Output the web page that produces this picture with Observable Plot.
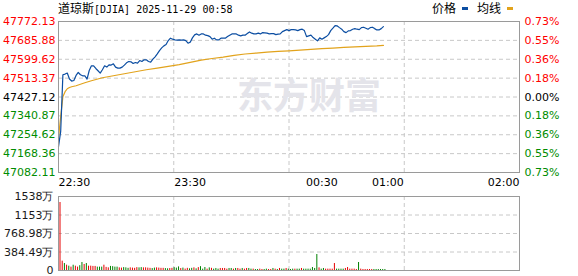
<!DOCTYPE html>
<html><head><meta charset="utf-8">
<script src="https://cdn.jsdelivr.net/npm/d3@7"></script>
<script src="https://cdn.jsdelivr.net/npm/@observablehq/plot@0.6"></script>
<style>
body{margin:0;background:#fff;}
#root{position:relative;width:578px;height:276px;overflow:hidden;background:#fff;font-family:"DejaVu Sans",sans-serif;}
#price,#vol{position:absolute;left:0;}
#price{top:0}
#vol{top:190px}
.t{position:absolute;top:0;height:16px;line-height:16px;white-space:nowrap;color:#000}
.cjk{font-family:"Noto Sans CJK SC";font-size:12px}
.mono{font-family:"DejaVu Sans Mono";font-size:10px}
.mk{position:absolute;top:7px;width:6px;height:3px}
</style></head>
<body>
<div id="root">
  <div id="price"></div>
  <div id="vol"></div>
  <div class="t" style="left:58px"><span class="cjk" id="tName"></span><span class="mono" id="tRest"></span></div>
  <div class="t cjk" style="left:432px" id="lg1"></div>
  <div class="mk" style="left:462px;background:#0c4ea2"></div>
  <div class="t cjk" style="left:477px" id="lg2"></div>
  <div class="mk" style="left:507px;background:#e2a31c"></div>
</div>
<script>
const titleName = "道琼斯";
const titleRest = "[DJIA] 2025-11-29 00:58";
const legendLabels = ["价格", "均线"];
const watermark = "东方财富";
const sessionMinutes = 210;
const timeTickMinutes = [0, 60, 120, 150, 210];
const timeTickLabels = ["22:30", "23:30", "00:30", "01:00", "02:00"];
const prevClose = 47427.12;
const priceTickLabels = ["47772.13","47685.88","47599.62","47513.37","47427.12","47340.87","47254.62","47168.36","47082.11"];
const pctTickLabels = ["0.73%","0.55%","0.36%","0.18%","0.00%","0.18%","0.36%","0.55%","0.73%"];
const prices = [
47200.7,47270.4,47528.7,47531.9,47536.5,47509.1,47500.0,47502.7,47525.5,47539.2,
47528.7,47524.1,47524.1,47509.1,47548.3,47569.7,47569.7,47557.4,47546.9,47536.5,
47551.5,47569.7,47563.8,47574.3,47572.9,47578.8,47563.8,47559.2,47559.2,47563.8,
47572.9,47583.4,47589.3,47587.9,47580.2,47584.7,47582.0,47593.8,47589.3,47597.0,
47597.0,47589.3,47586.6,47600.2,47610.7,47624.4,47639.4,47651.7,47660.8,47666.7,
47685.0,47695.9,47691.3,47688.2,47686.8,47688.2,47686.8,47688.2,47685.0,47673.1,
47677.7,47697.3,47710.9,47715.5,47709.6,47715.5,47715.5,47709.6,47707.7,47703.2,
47691.3,47695.9,47688.2,47688.2,47695.9,47695.9,47695.9,47703.2,47709.6,47715.5,
47715.5,47715.5,47709.6,47706.4,47709.6,47709.6,47716.9,47724.6,47718.7,47715.5,
47715.5,47718.7,47715.5,47721.4,47720.0,47718.7,47715.5,47716.9,47716.9,47712.3,
47714.1,47715.5,47726.0,47730.5,47735.1,47730.5,47735.1,47735.1,47733.7,47730.5,
47735.1,47736.9,47730.5,47703.2,47706.4,47709.6,47698.6,47691.3,47683.6,47697.3,
47691.3,47697.3,47703.2,47712.3,47730.5,47741.5,47753.3,47751.9,47744.2,47736.9,
47726.0,47721.4,47729.2,47730.5,47736.9,47739.6,47736.9,47735.1,47744.2,47746.0,
47741.5,47736.9,47744.2,47746.0,47739.6,47733.7,47733.7,47739.6,47748.8];
const avgMinutes = [0,1,2,3,4,5,6,7,8,9,10,12,15,20,25,30,35,40,45,50,55,60,65,70,75,80,85,90,95,100,105,110,115,120,125,130,135,140,145,148];
const avgValues = [47241.7,47337.3,47428.5,47451.3,47464.9,47470.4,47474.0,47476.3,47478.6,47482.2,47485.4,47492.3,47501.4,47515.0,47524.1,47533.3,47542.4,47551.5,47559.2,47567.4,47575.2,47585.6,47595.7,47603.0,47609.3,47617.5,47623.5,47628.0,47632.6,47635.3,47638.0,47641.7,47644.9,47648.1,47650.8,47654.0,47656.3,47658.1,47660.4,47663.1];
const volumes = [
1413,194,145,111,90,70,110,90,70,100,
166,125,145,90,90,85,85,70,70,70,
110,65,55,85,80,70,70,55,50,60,
55,45,55,50,45,60,55,60,55,55,
50,45,40,50,55,50,45,45,40,35,
40,45,60,50,75,40,50,30,45,35,
45,55,35,60,80,28,62,28,55,45,
28,42,28,42,42,42,28,42,42,28,
42,42,28,42,28,42,42,28,28,21,
21,28,21,21,28,21,21,42,28,21,
42,28,28,42,28,21,28,28,28,28,
42,28,28,28,28,62,42,332,55,28,
42,28,28,28,28,145,28,28,28,28,
42,62,28,28,28,21,166,28,21,21,
21,21,21,21,21,21,21,21,21];
const volDirection =
"rrgrgrgrrg"+"grgrrrrggg"+"rrrggggrrg"+"ggrrrrggrr"+"rrggrrrrgg"+
"rrgggrgrrg"+"grgrgggrgr"+"gggrrrrggr"+"grrgrrggrg"+"grrggrrgrg"+
"rggrgggrgg"+"rgggggggrg"+"grrrrrgggg"+"rrrrrrgrrr"+"rrrgggggg";
const volTickValues = [1537.96, 1153.47, 768.98, 384.49, 0];
const volTickLabels = ["1538万", "1153万", "768.98万", "384.49万", "0"];

document.getElementById("tName").textContent = titleName;
document.getElementById("tRest").textContent = titleRest;
document.getElementById("lg1").textContent = legendLabels[0];
document.getElementById("lg2").textContent = legendLabels[1];

const RED = "#ff0000", GREEN = "#008c00", BLACK = "#000000";
const colorOf = v => v > prevClose + 1e-6 ? RED : v < prevClose - 1e-6 ? GREEN : BLACK;
const yTicks = priceTickLabels.map(Number);
const yDomain = [d3.min(yTicks), d3.max(yTicks)];
const quarters = d3.range(1, 4).map(i => sessionMinutes * i / 4);
const grid = {stroke: "#c8c8c8", strokeDasharray: "4,3", strokeWidth: 1};
const style = {background: "transparent", fontFamily: "'DejaVu Sans', sans-serif", fontSize: "11px", overflow: "visible"};
const anchors = (i, n) => i === 0 ? "start" : i === n - 1 ? "end" : "middle";

const pricePlot = Plot.plot({
  width: 578, height: 190,
  marginLeft: 58, marginRight: 59, marginTop: 21, marginBottom: 18,
  x: {domain: [0, sessionMinutes], axis: null},
  y: {domain: yDomain, axis: null},
  color: {type: "identity"},
  style,
  marks: [
    Plot.ruleY(yTicks.slice(1, -1), grid),
    Plot.ruleX(quarters, grid),
    Plot.text([watermark], {frameAnchor: "middle", dx: 20, fontSize: 36, fontWeight: "bold", fill: "#e4e4ea", fontFamily: "Noto Sans CJK SC"}),
    Plot.line(avgValues, {x: (d, i) => avgMinutes[i], y: d => d, stroke: "#e2a31c", strokeWidth: 1.2}),
    Plot.line(prices, {x: (d, i) => i, y: d => d, stroke: "#0c4ea2", strokeWidth: 1.2}),
    Plot.frame({stroke: "#9a9a9a"}),
    Plot.text(yTicks, {x: () => 0, y: d => d, text: (d, i) => priceTickLabels[i], textAnchor: "end", dx: -3, fill: d => colorOf(d)}),
    Plot.text(yTicks, {x: () => sessionMinutes, y: d => d, text: (d, i) => pctTickLabels[i], textAnchor: "start", dx: 5, fill: d => colorOf(d)}),
    ...["start", "middle", "end"].map(a => Plot.text(timeTickMinutes, {
      filter: (d, i) => anchors(i, timeTickMinutes.length) === a,
      x: d => d, y: () => yDomain[0], text: (d, i) => timeTickLabels[i],
      textAnchor: a, dy: 10, fill: "#000"
    }))
  ]
});
document.getElementById("price").appendChild(pricePlot);

const volPlot = Plot.plot({
  width: 578, height: 86,
  marginLeft: 58, marginRight: 59, marginTop: 6, marginBottom: 6,
  x: {domain: [0, sessionMinutes], axis: null},
  y: {domain: [0, volTickValues[0]], axis: null},
  color: {type: "identity"},
  style,
  marks: [
    Plot.ruleY(volTickValues.slice(1, -1), grid),
    Plot.ruleX(quarters, grid),
    Plot.ruleX(volumes, {x: (d, i) => i, y1: () => 0, y2: d => d, dx: 1.5, strokeWidth: 1,
      stroke: (d, i) => volDirection[i] === "r" ? "#e60000" : "#008000"}),
    Plot.frame({stroke: "#9a9a9a"}),
    Plot.text(volTickValues, {x: () => 0, y: d => d, text: (d, i) => volTickLabels[i], textAnchor: "end", dx: -5, fill: "#1a1a1a"})
  ]
});
document.getElementById("vol").appendChild(volPlot);
</script>
</body></html>
